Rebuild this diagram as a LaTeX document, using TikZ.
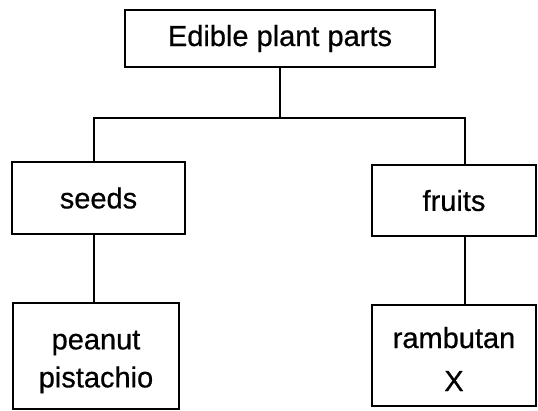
\documentclass[tikz,border=0pt]{standalone}
\usepackage{fontspec}
\setmainfont{Liberation Sans}
\newfontfamily\heavyfont{Liberation Sans}[FakeBold=0.6]
\begin{document}
\begin{tikzpicture}[x=1pt,y=-1pt,
  box/.style={draw=black,line width=2pt,inner sep=0pt,align=center,
    font=\heavyfont\fontsize{29}{38}\selectfont},
  conn/.style={draw=black,line width=2pt}]
\useasboundingbox[fill=white] (0,0) rectangle (538,410);
\node[box,minimum width=310pt,minimum height=57pt] (top) at (280,38.5) {Edible plant parts};
\node[box,minimum width=173pt,minimum height=72pt] (seeds) at (98.5,198) {seeds};
\node[box,minimum width=164pt,minimum height=71pt] (fruits) at (454,200.5) {fruits};
\node[box,minimum width=166pt,minimum height=106pt] (peanut) at (96,356) {};
\node[align=center,font=\heavyfont\fontsize{29}{38}\selectfont,inner sep=0pt] (peanuttxt) at (96,362) {peanut\\pistachio};
\node[box,minimum width=164pt,minimum height=101pt] (ramb) at (454,355.5) {};
\node[align=center,font=\heavyfont\fontsize{29}{43}\selectfont,inner sep=0pt] (rambtxt) at (454,359) {rambutan\\X};
\coordinate (j) at (279,118);
\draw[conn] (top.south) -- (top.south |- j);
\draw[conn] ([xshift=-4.5pt]seeds.north) |- (j) -| ([xshift=11pt]fruits.north);
\draw[conn] ([xshift=-4.5pt]seeds.south) -- ([xshift=-4.5pt]seeds.south |- peanut.north);
\draw[conn] ([xshift=11pt]fruits.south) -- ([xshift=11pt]fruits.south |- ramb.north);
\end{tikzpicture}
\end{document}
